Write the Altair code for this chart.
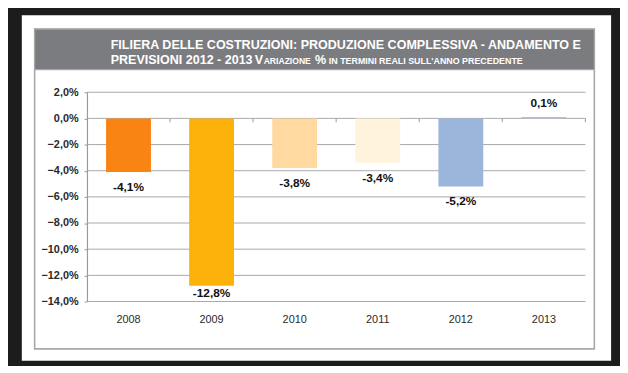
import altair as alt
import pandas as pd

# ---- data ----
years = ["2008", "2009", "2010", "2011", "2012", "2013"]
values = [-4.1, -12.8, -3.8, -3.4, -5.2, 0.1]
bar_colors = ["#F98313", "#FDB10B", "#FFD99F", "#FFF3DC", "#9CB6DB", "#B3C1D5"]
y_ticks = [2, 0, -2, -4, -6, -8, -10, -12, -14]
title_line1 = "FILIERA DELLE COSTRUZIONI: PRODUZIONE COMPLESSIVA - ANDAMENTO E"
title_line2 = ["PREVISIONI 2012 - 2013", "V", "ARIAZIONE", "%",
               "IN TERMINI REALI SULL'ANNO PRECEDENTE"]

FONT = "Liberation Sans"

df = pd.DataFrame({"year": years, "v": values})
df["label"] = [f"{v:.1f}".replace(".", ",") + "%" for v in values]
grid_df = pd.DataFrame({"v": y_ticks})
dummy = alt.Data(values=[{"a": 1}])

W, H = 505, 212

x_enc = alt.X(
    "year:N",
    sort=years,
    scale=alt.Scale(paddingInner=0.46, paddingOuter=0.23),
    axis=alt.Axis(
        title=None, labelAngle=0, ticks=False, domain=False, grid=False,
        labelFont=FONT, labelFontSize=11, labelColor="#2a2a2a",
        labelPadding=12, zindex=1,
    ),
)
y_scale = alt.Scale(domain=[-14, 2], nice=False, zero=False)
y_axis = alt.Axis(
    title=None, values=y_ticks, grid=False, zindex=1, labelOverlap=False,
    labelExpr="replace(format(datum.value, '.1f'), '.', ',') + '%'",
    labelFont=FONT, labelFontSize=11, labelFontWeight="bold",
    labelColor="#2a2a2a", labelPadding=6,
    domainColor="#9a9a9a", domainWidth=1.2,
    tickColor="#9a9a9a", tickSize=3,
)
y_enc = alt.Y("v:Q", scale=y_scale, axis=y_axis)

# ---- decoration (panel, frame, title bar) ----
panel = alt.Chart(dummy).mark_rect(fill="white").encode(
    x=alt.value(-66), x2=alt.value(531), y=alt.value(-78), y2=alt.value(272)
)
frame = alt.Chart(dummy).mark_rect(fill="white", stroke="#a8a8a8", strokeWidth=1.6).encode(
    x=alt.value(-53), x2=alt.value(514), y=alt.value(-64), y2=alt.value(260)
)
titlebar = alt.Chart(dummy).mark_rect(fill="#7b7c80", stroke="#a8a8a8", strokeWidth=1.2).encode(
    x=alt.value(-53), x2=alt.value(514), y=alt.value(-64), y2=alt.value(-23)
)

def ttext(txt, x, y, size):
    return alt.Chart(dummy).mark_text(
        font=FONT, fontWeight="bold", fontSize=size, color="white",
        align="left", baseline="alphabetic",
    ).encode(x=alt.value(x), y=alt.value(y), text=alt.value(txt))

t1 = ttext(title_line1, 24, -43.5, 12.7)
t2a = ttext(title_line2[0], 24, -28.5, 12.7)
t2b = ttext(title_line2[1], 170, -28.5, 12.7)
t2c = ttext(title_line2[2], 179, -28.5, 8.7)
t2d = ttext(title_line2[3], 231, -28.5, 12.7)
t2e = ttext(title_line2[4], 245, -28.5, 9)

# ---- plot ----
grid = alt.Chart(grid_df).mark_rule(color="#a9a9a9", strokeWidth=1).encode(y=y_enc)

bars = alt.Chart(df).mark_bar().encode(
    x=x_enc,
    y=y_enc,
    color=alt.Color("year:N", scale=alt.Scale(domain=years, range=bar_colors), legend=None),
)

zero_ticks = alt.Chart(df).mark_rule(color="#9a9a9a", strokeWidth=1, xOffset=42).encode(
    x=x_enc,
    y=alt.YDatum(0, scale=y_scale, axis=y_axis),
    y2=alt.Y2Datum(-0.3),
)

lab_common = dict(font=FONT, fontWeight="bold", fontSize=12, color="#111111")
lab_neg = alt.Chart(df).transform_filter("datum.v < 0 && datum.v > -10").mark_text(
    baseline="top", dy=10, **lab_common
).encode(x=x_enc, y=y_enc, text="label:N")
lab_deep = alt.Chart(df).transform_filter("datum.v <= -10").mark_text(
    baseline="top", dy=2, **lab_common
).encode(x=x_enc, y=y_enc, text="label:N")
lab_pos = alt.Chart(df).transform_filter("datum.v >= 0").mark_text(
    baseline="bottom", dy=-7, **lab_common
).encode(x=x_enc, y=y_enc, text="label:N")

chart = alt.layer(
    panel, frame, titlebar, t1, t2a, t2b, t2c, t2d, t2e,
    grid, bars, zero_ticks, lab_neg, lab_deep, lab_pos,
).properties(
    width=W, height=H,
    padding={"left": 80, "top": 83, "right": 35, "bottom": 63},
    autosize=alt.AutoSizeParams(type="none"),
    background="#1c1c1c",
).configure_view(strokeWidth=0)

chart.save("out.html", embed_options={"renderer": "svg", "actions": False})
